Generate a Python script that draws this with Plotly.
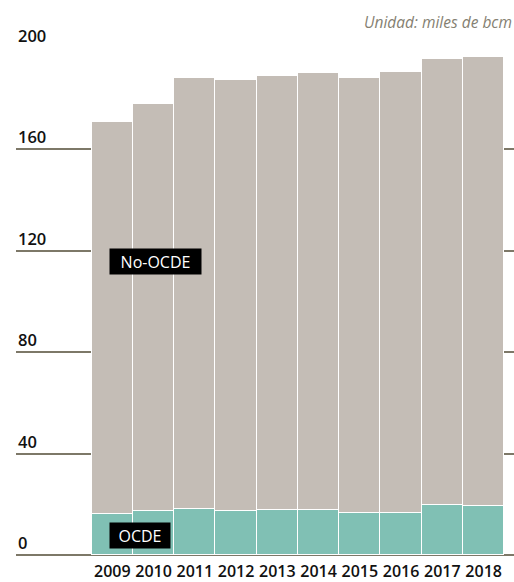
import plotly.graph_objects as go

years = ["2009", "2010", "2011", "2012", "2013", "2014", "2015", "2016", "2017", "2018"]
ocde = [16.3, 17.2, 18.0, 17.2, 17.9, 17.7, 16.4, 16.4, 19.6, 19.2]
no_ocde = [154.4, 160.9, 170.2, 170.2, 171.1, 172.3, 171.8, 174.0, 176.1, 177.3]
y_ticks = [0, 40, 80, 120, 160, 200]

FONT = "Open Sans"
GRID = "#7d7868"

fig = go.Figure()
fig.add_bar(x=years, y=ocde, name="OCDE", marker=dict(color="#80c0b4", line=dict(color="white", width=1.5)))
fig.add_bar(x=years, y=no_ocde, name="No-OCDE", marker=dict(color="#c4bdb6", line=dict(color="white", width=1.5)))

annotations = []
for t in y_ticks:
    annotations.append(dict(x=0, xref="paper", y=t, yref="y", text=str(t), showarrow=False,
                            xanchor="left", yanchor="bottom", yshift=-1,
                            font=dict(family=FONT, size=16.5, color="#111111", weight=600)))
annotations.append(dict(x=1, xref="paper", y=1.0503, yref="paper", text="<i>Unidad: miles de bcm</i>",
                        showarrow=False, xanchor="right", yanchor="middle",
                        font=dict(family=FONT, size=15.5, color="#857f72")))
annotations.append(dict(x=0.281, xref="paper", y=115.7, yref="y", text="No-OCDE", showarrow=False,
                        xanchor="center", yanchor="middle", bgcolor="black", borderpad=3,
                        width=85, height=19, align="center",
                        font=dict(family=FONT, size=16, color="white")))
annotations.append(dict(x=0.249, xref="paper", y=7.5, yref="y", text="OCDE", showarrow=False,
                        xanchor="center", yanchor="middle", bgcolor="black", borderpad=3,
                        width=54, height=19, align="center",
                        font=dict(family=FONT, size=16, color="white")))

fig.update_layout(
    width=514, height=582,
    barmode="stack", bargap=0,
    showlegend=False,
    plot_bgcolor="white", paper_bgcolor="white",
    margin=dict(l=16, r=0, t=48.3, b=24.5),
    annotations=annotations,
)
fig.update_xaxes(type="category", range=[-2.334, 9.736], showgrid=False, zeroline=False,
                 showline=False, ticks="", ticklabelstandoff=5,
                 tickfont=dict(family=FONT, size=16, color="#111111", weight=600))
fig.update_yaxes(range=[0, 200], tickvals=y_ticks, showticklabels=False, showgrid=True,
                 gridcolor=GRID, gridwidth=1.5, zeroline=True, zerolinecolor=GRID, zerolinewidth=1.5,
                 showline=False)

fig.write_html("out.html", config={"displayModeBar": False},
               post_script="document.body.style.margin='0';document.body.style.overflow='hidden';")
